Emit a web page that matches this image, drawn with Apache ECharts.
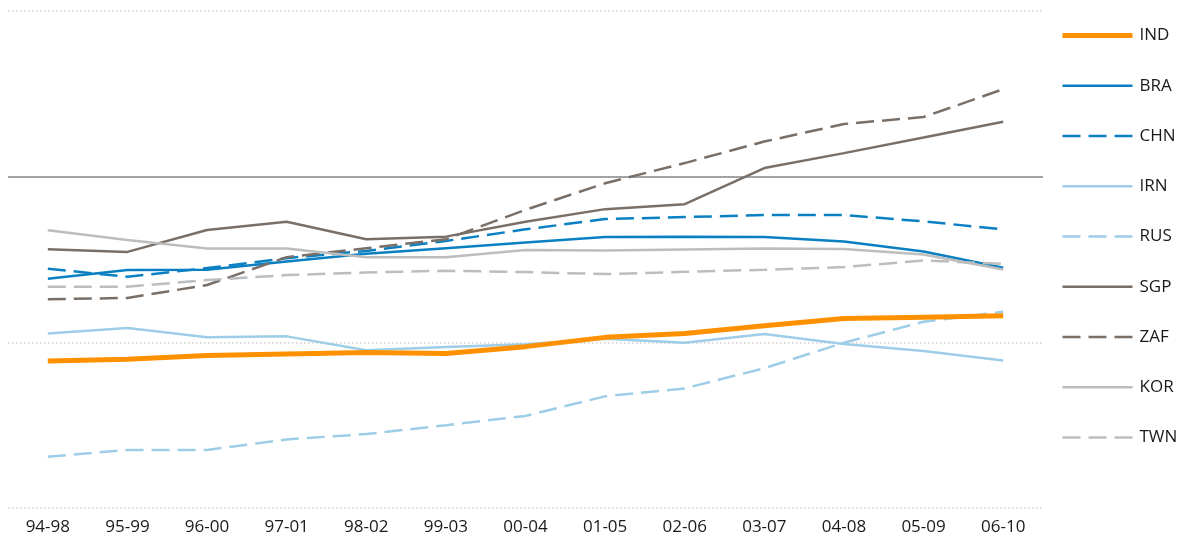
<!DOCTYPE html>
<html>
<head>
<meta charset="utf-8">
<script src="https://cdn.jsdelivr.net/npm/echarts@6/dist/echarts.min.js"></script>
<style>
html,body{margin:0;padding:0;background:#fff;}
#chart{width:1187px;height:546px;}
</style>
</head>
<body>
<div id="chart"></div>
<script>
var categories = ["94-98","95-99","96-00","97-01","98-02","99-03","00-04","01-05","02-06","03-07","04-08","05-09","06-10"];
var IND = [44.4,44.9,46.0,46.5,46.9,46.6,48.7,51.5,52.7,55.0,57.2,57.6,58.0];
var BRA = [69.2,71.8,71.9,74.4,76.7,78.4,80.1,81.8,81.9,81.8,80.4,77.4,72.5];
var CHN = [72.2,69.8,72.4,75.4,77.6,80.6,84.1,87.2,87.8,88.4,88.4,86.5,84.1];
var IRN = [52.7,54.3,51.5,51.8,47.6,48.6,49.4,51.1,49.9,52.5,49.5,47.4,44.5];
var RUS = [15.5,17.5,17.5,20.7,22.3,25.0,27.8,33.7,36.1,42.2,49.9,56.2,59.2];
var SGP = [78.1,77.3,83.9,86.4,81.1,81.9,86.4,90.2,91.7,102.6,107.1,111.8,116.6];
var ZAF = [63.0,63.4,67.3,75.7,78.4,81.1,90.0,98.0,104.1,110.6,115.9,118.0,126.4];
var KOR = [83.8,80.9,78.3,78.3,75.7,75.7,77.9,77.7,78.0,78.3,78.2,76.5,72.0];
var TWN = [66.8,66.8,68.8,70.3,71.1,71.6,71.2,70.6,71.3,71.9,72.7,74.7,73.7];
var referenceLevel = 100;

var FONT = "Open Sans";
var DASH = [18, 8];

function mk(name, data, color, width, dashed) {
  return {
    name: name, type: 'line', data: data, symbol: 'none', smooth: false,
    lineStyle: { color: color, width: width, type: dashed ? DASH : 'solid' },
    itemStyle: { color: color },
    emphasis: { disabled: true },
    z: name === 'IND' ? 5 : 3
  };
}

var series = [
  mk('IND', IND, '#FF9100', 5, false),
  mk('BRA', BRA, '#0A80C2', 2.5, false),
  mk('CHN', CHN, '#0A80C2', 2.5, true),
  mk('IRN', IRN, '#9DCDE7', 2.5, false),
  mk('RUS', RUS, '#9DCDE7', 2.5, true),
  mk('SGP', SGP, '#7A6F67', 2.5, false),
  mk('ZAF', ZAF, '#7A6F67', 2.5, true),
  mk('KOR', KOR, '#BDBDBD', 2.5, false),
  mk('TWN', TWN, '#BDBDBD', 2.5, true)
];
series[0].markLine = {
  silent: true, symbol: 'none', label: { show: false },
  lineStyle: { color: '#888888', width: 1.5, type: 'solid' },
  data: [{ yAxis: referenceLevel }],
  z: 1
};

var chart = echarts.init(document.getElementById('chart'), null, { renderer: 'canvas' });
chart.setOption({
  animation: false,
  backgroundColor: '#ffffff',
  grid: { left: 8, right: 144, top: 11, bottom: 38, containLabel: false },
  legend: {
    orient: 'vertical', left: 1060, top: 27, padding: 0,
    itemWidth: 70, itemHeight: 14, itemGap: 33.25,
    itemStyle: { opacity: 0 },
    lineStyle: { width: 'inherit' },
    textStyle: { fontFamily: FONT, fontSize: 17, color: '#1a1a1a', padding: [0, 0, 0, 2] },
    data: ['IND','BRA','CHN','IRN','RUS','SGP','ZAF','KOR','TWN']
  },
  xAxis: {
    type: 'category', data: categories, boundaryGap: true,
    axisLine: { show: false }, axisTick: { show: false },
    axisLabel: { fontFamily: FONT, fontSize: 17, color: '#1a1a1a', margin: 11 },
    splitLine: { show: false }
  },
  yAxis: {
    type: 'value', min: 0, max: 150, interval: 50,
    axisLine: { show: false }, axisTick: { show: false },
    axisLabel: { show: false },
    splitLine: { show: true, lineStyle: { color: '#CFCFCF', width: 1.5, type: [1.5, 2.5] } }
  },
  series: series
});
</script>
</body>
</html>
